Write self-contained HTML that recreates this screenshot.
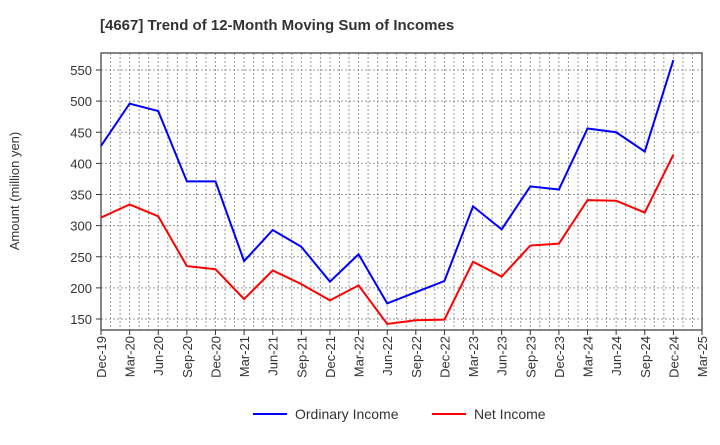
<!DOCTYPE html>
<html><head><meta charset="utf-8"><style>
body{margin:0;background:#fff;font-family:"Liberation Sans",sans-serif}
</style></head><body>
<svg id="c" width="720" height="440" xmlns="http://www.w3.org/2000/svg">
<text x="100" y="30" font-size="15" font-weight="bold" fill="#333">[4667]  Trend of 12-Month Moving Sum of Incomes</text>
<text transform="translate(19,191) rotate(-90)" font-size="13" fill="#333" text-anchor="middle">Amount (million yen)</text>
<g id="grid"></g><g id="axes"></g><g id="series"></g>
<g>
<line x1="253" y1="414" x2="287" y2="414" stroke="#0000ff" stroke-width="2"/>
<text x="295" y="419" font-size="14" fill="#333">Ordinary Income</text>
<line x1="432" y1="414" x2="466" y2="414" stroke="#ff0000" stroke-width="2"/>
<text x="474" y="419" font-size="14" fill="#333">Net Income</text>
</g>
</svg>
<script>
const categories=["Dec-19","Mar-20","Jun-20","Sep-20","Dec-20","Mar-21","Jun-21","Sep-21","Dec-21","Mar-22","Jun-22","Sep-22","Dec-22","Mar-23","Jun-23","Sep-23","Dec-23","Mar-24","Jun-24","Sep-24","Dec-24","Mar-25"];
const ordinaryIncome=[428,496,484,371,371,243,293,266,210,254,175,193,211,331,294,363,358,456,450,419,566];
const netIncome=[313,334,315,235,230,182,228,206,180,204,142,148,149,242,218,268,271,341,340,321,414];
const yTicks=[150,200,250,300,350,400,450,500,550];
const L=101,R=702,T=53,B=330;
const NS="http://www.w3.org/2000/svg";
const x=i=>L+(R-L)*i/(categories.length-1);
const y=v=>319-(v-150)*(249/400);
function mk(tag,attrs,parent){const e=document.createElementNS(NS,tag);for(const k in attrs)e.setAttribute(k,attrs[k]);parent.appendChild(e);return e;}
const grid=document.getElementById('grid'),axes=document.getElementById('axes'),series=document.getElementById('series');
for(let m=1;m<(categories.length-1)*3;m++){const xx=L+(R-L)*m/((categories.length-1)*3);
 const g=mk('line',{x1:xx,x2:xx,y1:T,y2:B,stroke:'#999','stroke-dasharray':'2,2','stroke-width':1},grid);
 
 }
yTicks.forEach(v=>{const g=mk('line',{x1:L,x2:R,y1:y(v),y2:y(v),stroke:'#999','stroke-dasharray':'2,2','stroke-width':1},grid);
 
 
 const t=mk('text',{x:L-9,y:y(v)+5,'font-size':13,fill:'#333','text-anchor':'end'},axes);t.textContent=v;
 
 
 mk('line',{x1:L-5,x2:L,y1:y(v),y2:y(v),stroke:'#333'},axes);});
categories.forEach((c,i)=>{const t=mk('text',{transform:`translate(${x(i)+5},${B+6}) rotate(-90)`,'font-size':13,fill:'#333','text-anchor':'end'},axes);t.textContent=c;
 
 
 mk('line',{x1:x(i),x2:x(i),y1:B,y2:B+5,stroke:'#333'},axes);});
const fr=mk('rect',{x:L,y:T,width:R-L,height:B-T,fill:'none',stroke:'#444','stroke-width':1.3},axes);


function line(d,col,name){const p=mk('polyline',{points:d.map((v,i)=>x(i)+','+y(v)).join(' '),fill:'none',stroke:col,'stroke-width':2},series);
 
 }
line(ordinaryIncome,'#0000ff','ordinary-income-line');
line(netIncome,'#ff0000','net-income-line');
</script>
</body></html>
